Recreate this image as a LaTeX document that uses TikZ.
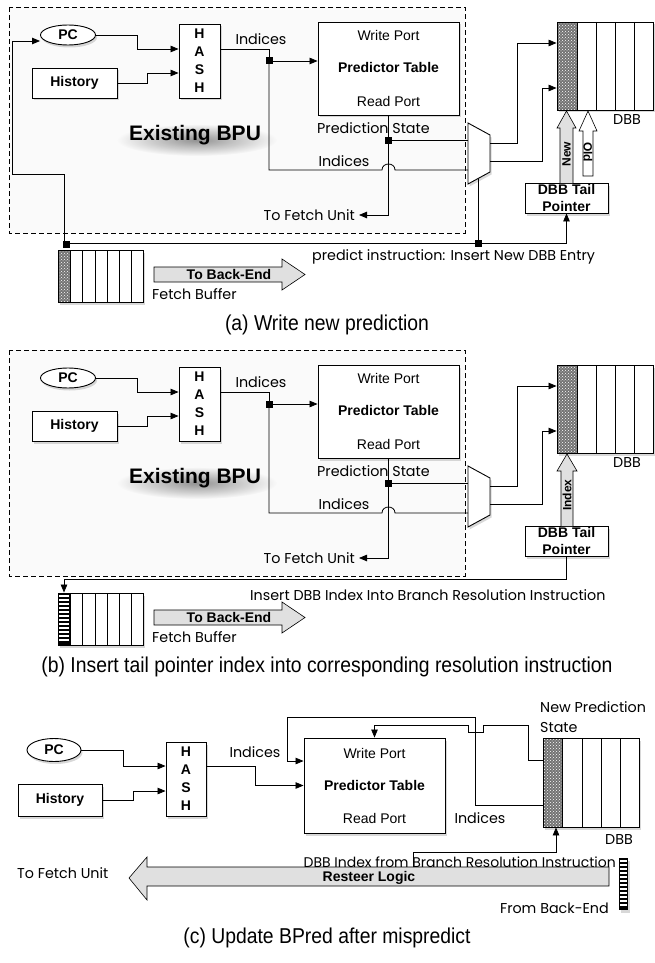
\documentclass[tikz,border=0pt]{standalone}
\usepackage{fontspec}
\setmainfont{Liberation Sans}
\newfontfamily\fut{Poppins}
\newfontfamily\capfont[FakeStretch=0.9]{Liberation Sans}
\usetikzlibrary{arrows.meta,shapes.geometric,shadows,patterns,fadings}
\tikzfading[name=softglow, inner color=transparent!25, outer color=transparent!100]
\begin{document}
\begin{tikzpicture}[x=1pt,y=-1pt,
  every node/.style={inner sep=0pt},
  box/.style={draw,fill=white,line width=0.9pt,drop shadow={shadow xshift=1.5pt,shadow yshift=-2.5pt,opacity=0.3}},
  lbl/.style={font=\fut\fontsize{14.3}{20}\selectfont},
  blbl/.style={font=\bfseries\fontsize{14}{17}\selectfont},
  rlbl/.style={font=\fontsize{14}{17}\selectfont},
  captxt/.style={font=\capfont\fontsize{21.5}{24}\selectfont},
  wire/.style={line width=0.8pt},
  arr/.style={wire,-{Triangle[length=8pt,width=6.5pt]}},
  jn/.style={fill=black,minimum size=7pt,inner sep=0pt},
  dashbox/.style={dash pattern=on 5pt off 3pt,line width=0.8pt,fill=black!2},
  fatarrow/.style={draw,line width=0.6pt,fill=black!12},
  cellline/.style={line width=0.9pt},
]
\useasboundingbox (0,0) rectangle (654,963);
\fill[white] (0,0) rectangle (654,963);

% ================= Panel (a) and (b) common parts =================
\foreach \p/\dy in {A/0,B/343}{
\begin{scope}[shift={(0,\dy)}]
\draw[dashbox] (9,7) rectangle (465,233);
\node[box,ellipse,minimum width=55pt,minimum height=20pt,font=\bfseries\fontsize{14}{16}\selectfont] (pc\p) at (68,35) {PC};
\node[box,minimum width=85pt,minimum height=30pt,blbl] (hist\p) at (74.5,83) {History};
\node[box,minimum width=41pt,minimum height=74pt,align=center,font=\bfseries\fontsize{14}{18}\selectfont] (hash\p) at (199.5,61) {H\\A\\S\\H};
\node[box,minimum width=141pt,minimum height=93pt] (pt\p) at (388.5,68.5) {};
\node[rlbl] (wp\p) at (388.5,35) {Write Port};
\node[blbl] (ptl\p) at (388.5,67) {Predictor Table};
\node[rlbl] (rp\p) at (388.5,101) {Read Port};
\node[lbl] (ind1\p) at (261,39) {Indices};
\node[lbl] (ind2\p) at (344,161) {Indices};
\node[lbl,anchor=west] (ps\p) at (317,128) {Prediction State};
\node[lbl,anchor=east,inner xsep=4pt] (ft\p) at (359,215) {To Fetch Unit};
% Existing BPU with soft shadow
\fill[black,opacity=0.55,path fading=softglow] (197,140) ellipse [x radius=80pt,y radius=16pt];
\node[font=\bfseries\fontsize{21}{24}\selectfont] (bpu\p) at (195,135) {Existing BPU};
% mux
\draw[box] (468,123) -- (490,135) -- (490,172) -- (468,184) -- cycle;
\coordinate (mux\p i1) at (468,140);
\coordinate (mux\p i2) at (468,170);
\coordinate (mux\p o1) at (490,143);
\coordinate (mux\p o2) at (490,161);
\coordinate (mux\p b) at (478,178.5);
% DBB
\node[box,minimum width=96pt,minimum height=88pt] (dbb\p) at (605,66) {};
\fill[black!55] (557,22) rectangle (577,110);
\fill[pattern=crosshatch dots,pattern color=white] (557,22) rectangle (577,110);
\draw[cellline] (557,22) rectangle (653,110);
\foreach \x in {577,596,615,634} \draw[cellline] (\x,22) -- (\x,110);
\node[lbl] (dbbl\p) at (627,120) {DBB};
% tail pointer
\node[box,minimum width=83pt,minimum height=30pt,align=center,font=\bfseries\fontsize{14}{17}\selectfont] (tp\p) at (566.5,198) {DBB Tail\\Pointer};
% fetch buffer
\node[box,minimum width=85pt,minimum height=52pt] (fb\p) at (100.5,276) {};
\draw[cellline] (58,250) rectangle (143,302);
\foreach \x in {70,82,95,107,119,131} \draw[cellline] (\x,250) -- (\x,302);
% To Back-End
\draw[fatarrow] (154,267) -- (282,267) -- (282,259) -- (305,274.5) -- (282,290) -- (282,282) -- (154,282) -- cycle;
\node[font=\bfseries\fontsize{14}{16}\selectfont] (tbe\p) at (229,274.5) {To Back-End};
\node[lbl,anchor=west] (fbt\p) at (152,294) {Fetch Buffer};
% connectors
\coordinate (j\p 1) at (269,61);
\coordinate (j\p 2) at (388.5,140);
\draw[arr] (pc\p.east) -| (137,49) -- ([yshift=12pt]hash\p.west);
\draw[arr] (hist\p.east) -| (147,73) -- ([yshift=-12pt]hash\p.west);
\draw[wire] ([yshift=12pt]hash\p.east) -| (j\p 1);
\draw[arr] (j\p 1) -- (j\p 1 -| pt\p.west);
\draw[wire] (j\p 1) -- (269,170) -- (382,170) .. controls (382,162) and (395,162) .. (395,170) -- (mux\p i2);
\draw[wire] (pt\p.south) -- (j\p 2) -- (mux\p i1);
\draw[arr] (j\p 2) |- (ft\p.east);
\draw[arr] (mux\p o1) -| (517,43) -- ([yshift=23pt]dbb\p.west);
\draw[arr] (mux\p o2) -| (542,88) -- ([yshift=-22pt]dbb\p.west);
\node[jn] (sq\p 1) at (j\p 1) {};
\node[jn] (sq\p 2) at (j\p 2) {};
\end{scope}
}

% ================= Panel (a) specific =================
\fill[black!55] (58,250) rectangle (70,302);
\fill[pattern=crosshatch dots,pattern color=white] (58,250) rectangle (70,302);
\draw[cellline] (58,250) rectangle (143,302);
\draw[cellline] (70,250) -- (70,302);
\coordinate (jA3) at (64,243);
\coordinate (jA4) at (478,243);
\draw[arr] (jA3) -- (64,174) -- (12,174) |- ([yshift=-6pt]pcA.west);
\draw[arr] (jA3) -| (tpA.south);
\draw[wire] (muxAb) -- (jA4);
\node[jn] (sqA3) at (66,244) {};
\node[jn] (sqA4) at (jA4) {};
% New / Old arrows
\draw[fatarrow] (560,183) -- (560,128) -- (557,128) -- (566.5,111) -- (576,128) -- (573,128) -- (573,183);
\node[font=\bfseries\fontsize{12}{14}\selectfont,rotate=90] (newA) at (566.5,154) {New};
\draw[fatarrow,fill=white] (583,176) -- (583,131) -- (579,131) -- (588,111) -- (597,131) -- (593,131) -- (593,176) -- cycle;
\node[font=\bfseries\fontsize{12}{14}\selectfont,rotate=-90] (oldA) at (588,152) {Old};
\node[lbl,anchor=west] (piA) at (312,257) {predict instruction: Insert New DBB Entry};
\node[captxt] (capA) at (327,325) {(a) Write new prediction};

% ================= Panel (b) specific =================
\begin{scope}[shift={(0,343)}]
\fill[black] (58,250) rectangle (70,302);
\foreach \y in {253,257,...,300} \draw[white,line width=1.1pt] (59,\y) -- (69,\y);
\draw[cellline] (58,250) rectangle (143,302);
\coordinate (cB1) at (64,236);
\draw[arr] (tpB.south) |- (cB1) -- (cB1 |- fbB.north);
\draw[fatarrow] (561,183) -- (561,128) -- (557,128) -- (567,111) -- (577,128) -- (573,128) -- (573,183);
\node[font=\bfseries\fontsize{12}{14}\selectfont,rotate=90] (idxB) at (567,152) {Index};
\node[lbl,anchor=west] (ibB) at (250,252) {Insert DBB Index Into Branch Resolution Instruction};
\end{scope}
\node[captxt] (capB) at (327,667) {(b) Insert tail pointer index into corresponding resolution instruction};

% ================= Panel (c) =================
\node[box,ellipse,minimum width=54pt,minimum height=23pt,font=\bfseries\fontsize{14}{16}\selectfont] (pcC) at (54,750) {PC};
\node[box,minimum width=84pt,minimum height=32pt,blbl] (histC) at (60,800) {History};
\node[box,minimum width=40pt,minimum height=74pt,align=center,font=\bfseries\fontsize{14}{18}\selectfont] (hashC) at (186,779) {H\\A\\S\\H};
\node[box,minimum width=141pt,minimum height=95pt] (ptC) at (374.5,785.5) {};
\node[rlbl] (wpC) at (374.5,753) {Write Port};
\node[blbl] (ptlC) at (374.5,785) {Predictor Table};
\node[rlbl] (rpC) at (374.5,818) {Read Port};
\node[box,minimum width=96pt,minimum height=89pt] (dbbC) at (591,782.5) {};
\fill[black!55] (543,738) rectangle (562,827);
\fill[pattern=crosshatch dots,pattern color=white] (543,738) rectangle (562,827);
\draw[cellline] (543,738) rectangle (639,827);
\foreach \x in {562,582,601,620} \draw[cellline] (\x,738) -- (\x,827);
\node[lbl] (dbblC) at (619,840) {DBB};
\node[lbl,align=left,anchor=west] (npsC) at (540,717) {New Prediction\\State};
\node[lbl] (ind1C) at (255,752) {Indices};
\node[lbl] (ind2C) at (480,818) {Indices};
\draw[arr] (pcC.east) -| (123,766) -- ([yshift=13pt]hashC.west);
\draw[arr] (histC.east) -| (133,791) -- ([yshift=-12pt]hashC.west);
\draw[arr] ([yshift=13pt]hashC.east) -- (255,766) |- (ptC.west);
\draw[arr] ([yshift=-22.5pt]dbbC.west) -- (475,805) -- (475,717) -- (287,717) |- ([yshift=24.5pt]ptC.west);
\draw[arr] ([yshift=22.5pt]dbbC.west) -- (528,760) -- (528,725) -- (483,725) -- (483,732) -- (468,732) -- (468,725) -| (ptC.north);
% resteer arrow
\draw[fatarrow] (609,867) -- (147,867) -- (147,857) -- (129,878) -- (147,900) -- (147,886) -- (609,886) -- cycle;
\node[font=\bfseries\fontsize{14}{16}\selectfont] (rlC) at (369,878) {Resteer Logic};
\node[lbl,anchor=west] (ftC) at (17,873) {To Fetch Unit};
\node[lbl,anchor=east,font=\fut\fontsize{14}{20}\selectfont] (dbiC) at (616,862) {DBB Index from Branch Resolution Instruction};
\node[lbl,anchor=east] (fbeC) at (609,908) {From Back-End};
\node[fill=black,minimum width=9pt,minimum height=52pt,drop shadow={shadow xshift=1.5pt,shadow yshift=-2.5pt,opacity=0.3}] (blkC) at (623.5,884) {};
\foreach \y in {861,865,...,907} \draw[white,line width=1.1pt] (620,\y) -- (627,\y);
\coordinate (cC2) at (413,867);
\coordinate (cC3) at (556,852);
\draw[arr] (cC2) |- (cC3) -- (cC3 |- dbbC.south);
\node[captxt] (capC) at (327,938) {(c) Update BPred after mispredict};
\end{tikzpicture}
\end{document}
